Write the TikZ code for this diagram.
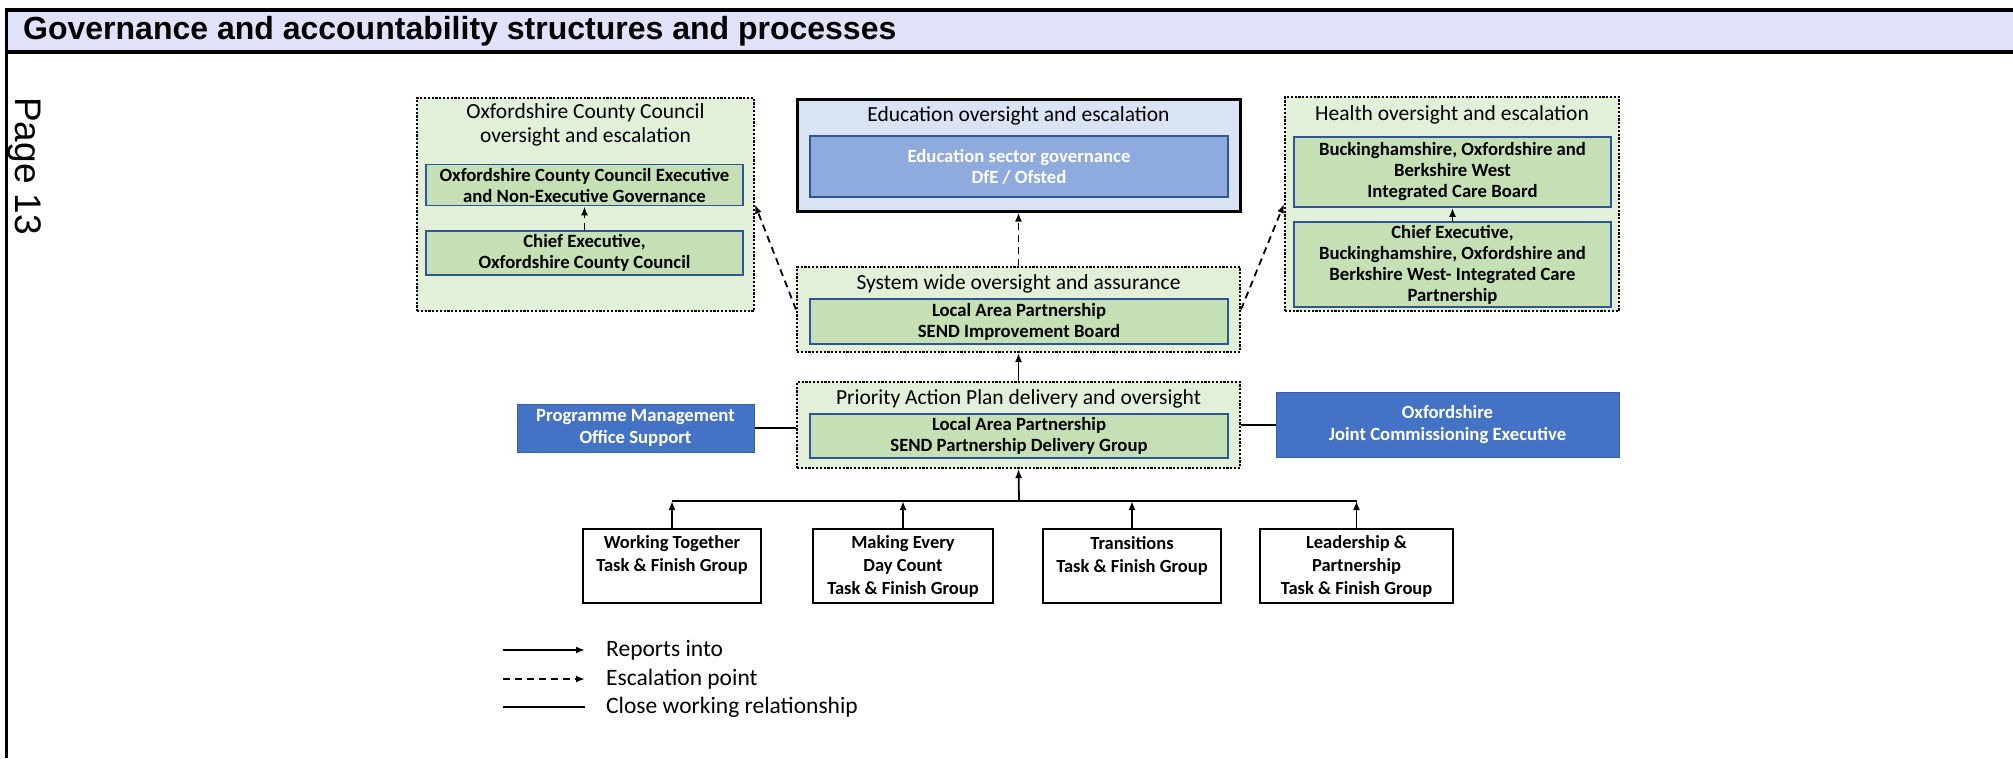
\documentclass[tikz,border=0pt]{standalone}
\usepackage{fontspec}
\setmainfont{Carlito}
\newfontfamily\arialfont{Liberation Sans}
\usetikzlibrary{arrows.meta}

\definecolor{hdrfill}{RGB}{224,226,250}
\definecolor{lgreen}{HTML}{E2F0D9}
\definecolor{mgreen}{HTML}{C5E0B4}
\definecolor{dblue}{HTML}{2F5597}
\definecolor{eduback}{HTML}{DAE3F3}
\definecolor{eduin}{HTML}{8FAADC}
\definecolor{pblue}{HTML}{4472C4}

\tikzset{
  ttl/.style={font=\fontsize{21.5}{24.5}\selectfont, align=center},
  grp/.style={draw, line width=2pt, dash pattern=on 2.2pt off 1.6pt, fill=lgreen},
  inbox/.style={draw=dblue, line width=1.8pt, fill=mgreen, align=center,
    font=\bfseries\fontsize{18.7}{21}\selectfont},
  bluebox/.style={draw=pblue!85!black, line width=1pt, fill=pblue, text=white, align=center,
    font=\bfseries\fontsize{18.7}{22}\selectfont},
  taskbox/.style={draw, line width=2.4pt, fill=white},
  tasktxt/.style={anchor=north, align=center, inner ysep=8pt,
    font=\bfseries\fontsize{18.5}{23}\selectfont},
  reports/.style={line width=1.8pt, -{Latex[length=9pt,width=7pt]}},
  escalates/.style={reports, dash pattern=on 7pt off 5pt},
  works/.style={line width=2pt},
  keytxt/.style={anchor=west, inner xsep=0pt, font=\fontsize{23.5}{28}\selectfont}
}

\begin{document}
\begin{tikzpicture}[x=1pt,y=-1pt]
\useasboundingbox[fill=white] (0,0) rectangle (2013,758);

% header and frame
\fill[hdrfill] (6,10) rectangle (2013,52);
\draw[line width=4pt] (2013,10) -- (6,10);
\draw[line width=4pt] (6,52) -- (2013,52);
\draw[line width=3pt] (6,8) -- (6,758);
\node[anchor=west, inner sep=0pt, font=\arialfont\bfseries\fontsize{32}{36}\selectfont] (hdr) at (23,31) {Governance and accountability structures and processes};
\node[rotate=-90, anchor=base west, inner sep=0pt, font=\arialfont\fontsize{37}{42}\selectfont] (pg) at (16,97) {Page 13};

% oversight groups
\node[grp, minimum width=337pt, minimum height=213pt] (occ) at (585.5,204.5) {};
\node[ttl] (occttl) at (585.5,125) {Oxfordshire County Council\\oversight and escalation};
\node[inbox, minimum width=317pt, minimum height=36pt] (occgov) at (584.5,185) {Oxfordshire County Council Executive\\and Non-Executive Governance};
\node[inbox, minimum width=317pt, minimum height=44pt] (occce) at (584.5,253) {Chief Executive,\\Oxfordshire County Council};

\node[draw, line width=3pt, fill=eduback, minimum width=443pt, minimum height=112pt] (edu) at (1018.5,155) {};
\node[ttl] (eduttl) at (1018.5,116) {Education oversight and escalation};
\node[inbox, draw=dblue, fill=eduin, text=white, minimum width=418pt, minimum height=61pt] (dfe) at (1019,166.5) {Education sector governance\\DfE / Ofsted};

\node[grp, minimum width=334pt, minimum height=214pt] (hlt) at (1452,204) {};
\node[ttl] (hltttl) at (1452,115) {Health oversight and escalation};
\node[inbox, minimum width=317pt, minimum height=70pt] (icb) at (1452.5,172) {Buckinghamshire, Oxfordshire and\\Berkshire West\\Integrated Care Board};
\node[inbox, minimum width=317pt, minimum height=85pt] (icp) at (1452.5,264.5) {Chief Executive,\\Buckinghamshire, Oxfordshire and\\Berkshire West- Integrated Care\\Partnership};

% partnership
\node[grp, minimum width=443pt, minimum height=85pt] (sys) at (1018.5,309.5) {};
\node[ttl] (systtl) at (1018.5,284) {System wide oversight and assurance};
\node[inbox, minimum width=418pt, minimum height=45pt] (lapib) at (1019,321.5) {Local Area Partnership\\SEND Improvement Board};

\node[grp, minimum width=443pt, minimum height=86pt] (pri) at (1018.5,425) {};
\node[ttl] (prittl) at (1018.5,399) {Priority Action Plan delivery and oversight};
\node[inbox, minimum width=418pt, minimum height=44pt] (lapdg) at (1019,436) {Local Area Partnership\\SEND Partnership Delivery Group};

\node[bluebox, minimum width=237pt, minimum height=48pt] (pmo) at (635.5,428) {Programme Management\\Office Support};
\node[bluebox, minimum width=343pt, minimum height=65pt] (jce) at (1447.5,424.5) {Oxfordshire\\Joint Commissioning Executive};

% task and finish groups
\node[taskbox, minimum width=178pt, minimum height=74pt] (wt) at (672,566) {};
\node[taskbox, minimum width=180pt, minimum height=74pt] (medc) at (903,566) {};
\node[taskbox, minimum width=178pt, minimum height=74pt] (trans) at (1132,566) {};
\node[taskbox, minimum width=193pt, minimum height=74pt] (lead) at (1356.5,566) {};
\node[tasktxt] (wttxt) at (wt.north) {Working Together\\Task \& Finish Group};
\node[tasktxt] (medctxt) at (medc.north) {Making Every\\Day Count\\Task \& Finish Group};
\node[tasktxt] (transtxt) at (trans.north) {Transitions\\Task \& Finish Group};
\node[tasktxt] (leadtxt) at (lead.north) {Leadership \&\\Partnership\\Task \& Finish Group};

% connectors
\coordinate (bus) at (1019,501);
\draw[works] (wt.north |- bus) -- (lead.north |- bus);
\foreach \t in {wt,medc,trans,lead}
  \draw[reports] (\t.north) -- (\t.north |- bus);
\draw[reports] (bus) -- (pri.south);
\draw[reports] (pri.north) -- (sys.south);
\draw[escalates] (sys.north) -- (edu.south);
\draw[escalates] (sys.west) -- (occ.east);
\draw[escalates] (sys.east) -- (hlt.west);
\draw[escalates] (occce.north) -- (occgov.south);
\draw[escalates] (icp.north) -- (icb.south);
\draw[works] (pmo.east) -- (pri.west |- pmo.east);
\draw[works] (jce.west) -- (pri.east |- jce.west);

% key
\node[keytxt] (keyrep) at (606,650) {Reports into};
\node[keytxt] (keyesc) at (606,679) {Escalation point};
\node[keytxt] (keywork) at (606,707) {Close working relationship};
\coordinate (k1) at (503,650);
\coordinate (k2) at (503,679);
\coordinate (k3) at (503,707);
\draw[reports] (k1) -- ([xshift=-21pt]keyrep.west);
\draw[escalates] (k2) -- ([xshift=-21pt]keyesc.west);
\draw[works] (k3) -- ([xshift=-21pt]keywork.west);

\end{tikzpicture}
\end{document}
